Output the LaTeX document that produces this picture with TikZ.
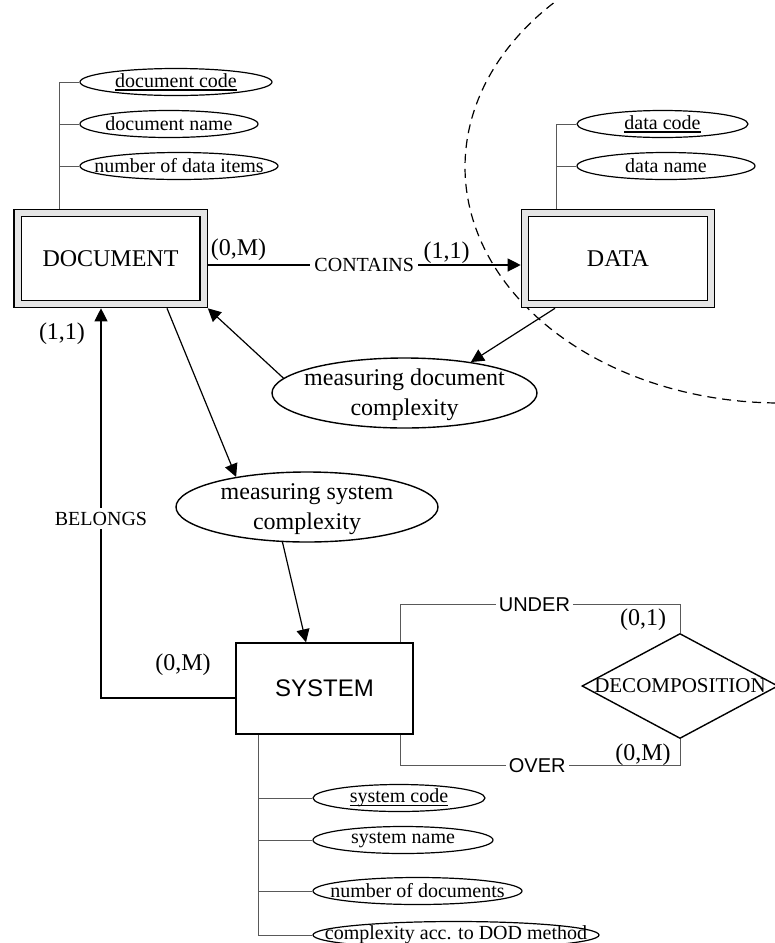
\documentclass[tikz,border=0pt]{standalone}
\usepackage{fontspec}
\setmainfont{Liberation Serif}
\setsansfont{Liberation Sans}
\usetikzlibrary{arrows.meta,shapes.geometric}
\newsavebox\myulbox
\newcommand\myul[1]{\sbox\myulbox{#1}\leavevmode\rlap{\vrule width\wd\myulbox height -1.1pt depth 1.65pt}\usebox\myulbox}
\tikzset{
  fa/.style={font=\fontsize{10}{12}\selectfont},
  fb/.style={font=\fontsize{12}{15}\selectfont},
  fs/.style={font=\sffamily\fontsize{10}{12}\selectfont},
  dbox/.style={draw, line width=0.65pt, double=gray!20, double distance=3pt, fill=white,
    minimum width=93pt, minimum height=45.5pt, outer sep=2.15pt, fb},
  sbox/.style={draw, line width=0.7pt, minimum width=88.5pt, minimum height=45.5pt,
    font=\sffamily\fontsize{12}{15}\selectfont},
  attr/.style={ellipse, draw, line width=0.6pt, inner sep=0pt, minimum height=13.5pt},
  atxt/.style={fa, inner sep=0pt},
  bigell/.style={ellipse, draw, line width=0.7pt, inner sep=0pt, minimum width=132.5pt, minimum height=35pt},
  btxt/.style={fb, align=center, inner sep=0pt},
  aline/.style={draw=black!65, line width=0.5pt},
  arr/.style={draw=black, line width=0.6pt, -{Triangle[length=6.5pt,width=6.5pt]}},
  rlab/.style={fill=white, inner sep=2pt, fa},
  card/.style={fb, inner sep=0pt},
}
\begin{document}
\begin{tikzpicture}[x=0.5pt, y=-0.5pt]
\useasboundingbox (0,0) rectangle (775,943);

% dashed boundary
\draw[dash pattern=on 4.5pt off 3pt, line width=0.6pt]
  plot[domain=88:224, samples=120] ({780+315*cos(\x)}, {167+236*sin(\x)});

% entities
\node[dbox] (doc) at (110.5,258.5) {DOCUMENT};
\node[dbox] (data) at (618,258.5) {DATA};
\node[sbox] (sys) at (324.5,688.5) {SYSTEM};
\node[diamond, draw, line width=0.7pt, inner sep=0pt, minimum width=98pt, minimum height=52.5pt] (dec) at (680,686) {};
\node[inner sep=0pt, font=\fontsize{10.5}{12}\selectfont] (dect) at (dec.center) {DECOMPOSITION};

% document attributes
\node[attr, minimum width=96pt] (dc) at (176,82) {};
\node[atxt] (dct) at (dc.center) {\myul{document code}};
\node[attr, minimum width=89pt] (dn) at (169,124) {};
\node[atxt] (dnt) at (dn.center) {document name};
\node[attr, minimum width=99pt] (ni) at (179,166) {};
\node[atxt] (nit) at (ni.center) {number of data items};
\coordinate (dj) at ([xshift=-25.75pt]doc.north);
\draw[aline] (dj) |- (dc.west);
\draw[aline] (dn.west) -- (dn.west -| dj);
\draw[aline] (ni.west) -- (ni.west -| dj);

% data attributes
\node[attr, minimum width=85.5pt] (dac) at (662.5,124) {};
\node[atxt] (dact) at (dac.center) {\myul{data code}};
\node[attr, minimum width=89pt] (dan) at (666,166) {};
\node[atxt] (dant) at (dan.center) {data name};
\coordinate (daj) at ([xshift=-31pt]data.north);
\draw[aline] (daj) |- (dac.west);
\draw[aline] (dan.west) -- (dan.west -| daj);

% system attributes
\node[attr, minimum width=86pt] (sc) at (399,798) {};
\node[atxt] (sct) at (sc.center) {\myul{system code}};
\node[attr, minimum width=90pt] (sn) at (403,840) {};
\node[atxt] (snt) at (sn.center) {system name};
\node[attr, minimum width=104.5pt] (nd) at (417.5,891) {};
\node[atxt] (ndt) at (nd.center) {number of documents};
\node[attr, minimum width=143pt] (cx) at (456,935) {};
\node[atxt] (cxt) at (cx.center) {complexity acc. to DOD method};
\coordinate (sj) at ([xshift=-33.25pt]sys.south);
\draw[aline] (sj) |- (cx.west);
\draw[aline] (sc.west) -- (sc.west -| sj);
\draw[aline] (sn.west) -- (sn.west -| sj);
\draw[aline] (nd.west) -- (nd.west -| sj);

% process ellipses
\node[bigell] (mdc) at (404.5,393) {};
\node[btxt] (mdct) at ([yshift=-1pt]mdc.center) {measuring document\\complexity};
\node[bigell, minimum width=131pt] (msc) at (307,507) {};
\node[btxt] (msct) at ([yshift=-1pt]msc.center) {measuring system\\complexity};

% connectors
\draw[arr] ([yshift=-3.25pt]doc.east) -- node[rlab] (contl) {CONTAINS} ([yshift=-3.25pt]data.west);
\draw[arr] (mdc.173) -- (doc.south east);
\draw[arr] ([xshift=-31.5pt]data.south) -- (mdc.25);
\draw[arr] ([xshift=28.25pt]doc.south) -- (msc.157);
\draw[arr] (msc.235) -- ([xshift=-9.25pt]sys.north);
\draw[arr] ([yshift=-4.75pt]sys.west) -| node[rlab, pos=0.73] (bel) {BELONGS} ([xshift=-4.75pt]doc.south);

\draw[aline] ([xshift=37.75pt]sys.north) -- ++(0,-38)
  -| node[pos=0.24, fill=white, inner sep=1.5pt, fs] (und) {UNDER} (dec.north);
\draw[aline] ([xshift=37.75pt]sys.south) -- ++(0,31)
  -| node[pos=0.245, fill=white, inner sep=1.5pt, fs] (ovr) {OVER} (dec.south);

% cardinalities
\node[card] (c1) at (238.5,250) {(0,M)};
\node[card] (c2) at (446.5,253) {(1,1)};
\node[card] (c3) at (62,334) {(1,1)};
\node[card] (c4) at (183,665) {(0,M)};
\node[card] (c5) at (643,620) {(0,1)};
\node[card] (c6) at (643,755) {(0,M)};
\end{tikzpicture}
\end{document}
